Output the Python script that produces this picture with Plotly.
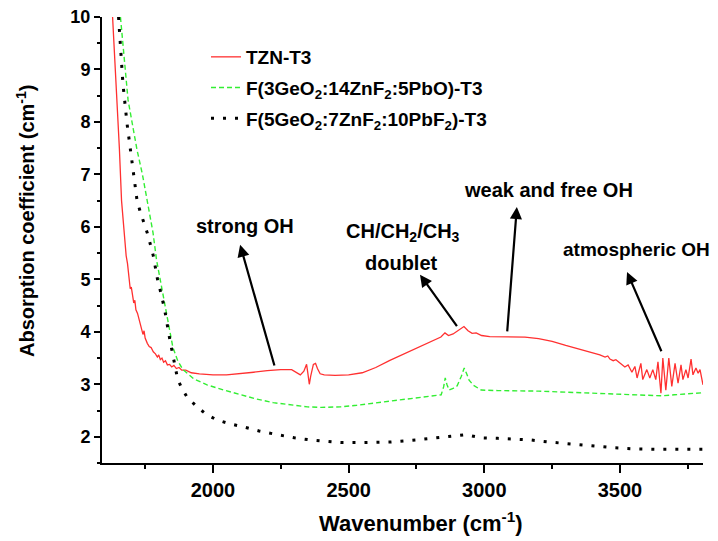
import plotly.graph_objects as go

# ---------------- data ----------------
tzn_x = [1630, 1645, 1655, 1663, 1672, 1680, 1685, 1690, 1695, 1699, 1704, 1708, 1712, 1716,
         1722, 1728, 1733, 1738, 1742, 1746, 1750, 1758, 1765, 1772, 1780, 1788, 1795, 1800,
         1806, 1812, 1818, 1825, 1832, 1840, 1848, 1856, 1865, 1875, 1885, 1900, 1920, 1950,
         2000, 2050, 2100, 2150, 2200, 2250, 2290, 2310, 2322, 2335, 2345, 2350, 2355, 2360,
         2370, 2378, 2385, 2395, 2410, 2450, 2500, 2550, 2600, 2650, 2700, 2750, 2800, 2840,
         2855, 2868, 2885, 2905, 2925, 2940, 2955, 2970, 2990, 3020, 3100, 3150, 3200, 3250,
         3300, 3350, 3400, 3426, 3445, 3455, 3463, 3475, 3485, 3500, 3518, 3530, 3544, 3555,
         3563, 3577, 3584, 3599, 3610, 3621, 3632, 3640, 3651, 3658, 3669, 3680, 3691, 3703,
         3714, 3725, 3732, 3743, 3751, 3762, 3769, 3780, 3788, 3795, 3806]
tzn_y = [10.0, 8.6, 7.5, 6.5, 5.9, 5.45, 5.3, 5.0, 4.82, 4.85, 4.72, 4.55, 4.6, 4.42,
         4.35, 4.22, 4.15, 4.0, 3.95, 4.02, 3.88, 3.78, 3.72, 3.7, 3.62, 3.58, 3.52, 3.56,
         3.47, 3.5, 3.42, 3.45, 3.37, 3.38, 3.33, 3.36, 3.3, 3.32, 3.27, 3.27, 3.22, 3.2,
         3.18, 3.18, 3.2, 3.23, 3.26, 3.28, 3.28, 3.22, 3.18, 3.25, 3.38, 3.2, 3.0, 3.15,
         3.38, 3.4, 3.3, 3.2, 3.18, 3.17, 3.18, 3.22, 3.32, 3.45, 3.57, 3.69, 3.8, 3.9,
         3.98, 3.93, 3.96, 4.03, 4.1, 4.02, 3.97, 3.98, 3.93, 3.91, 3.91, 3.9, 3.87, 3.82,
         3.74, 3.67, 3.59, 3.56, 3.52, 3.54, 3.48, 3.45, 3.47, 3.4, 3.33, 3.37, 3.23, 3.34,
         3.12, 3.4, 3.09, 3.28, 3.12, 3.28, 3.09, 3.43, 2.83, 3.5, 2.89, 3.5, 2.96, 3.4,
         3.02, 3.37, 3.09, 3.28, 3.12, 3.48, 3.18, 3.31, 3.21, 3.28, 2.99]

f3_x = [1659, 1675, 1687, 1705, 1720, 1740, 1757, 1779, 1792, 1812, 1830, 1852, 1870, 1889,
        1930, 1978, 2040, 2100, 2160, 2222, 2290, 2348, 2400, 2470, 2530, 2593, 2656, 2720,
        2790, 2841, 2850, 2856, 2862, 2870, 2885, 2900, 2915, 2926, 2935, 2944, 2960, 2989,
        3050, 3111, 3200, 3300, 3359, 3450, 3550, 3656, 3700, 3806]
f3_y = [10.0, 9.1, 8.42, 7.9, 7.47, 7.0, 6.51, 5.89, 5.37, 4.8, 4.29, 3.71, 3.45, 3.28,
        3.1, 2.99, 2.89, 2.8, 2.72, 2.65, 2.6, 2.57, 2.56, 2.57, 2.6, 2.64, 2.67, 2.71,
        2.76, 2.8, 2.95, 3.12, 3.0, 2.89, 2.92, 2.97, 3.15, 3.31, 3.2, 3.08, 2.98, 2.89,
        2.88, 2.88, 2.87, 2.85, 2.84, 2.82, 2.8, 2.78, 2.8, 2.84]

f5_x = [1652, 1668, 1683, 1701, 1720, 1730, 1760, 1780, 1796, 1810, 1822, 1841, 1855, 1870,
        1888, 1904, 1941, 1975, 2015, 2060, 2111, 2170, 2237, 2300, 2359, 2420, 2470, 2550,
        2656, 2750, 2852, 2900, 2933, 2960, 2989, 3050, 3111, 3170, 3237, 3300, 3359, 3420,
        3482, 3550, 3650, 3806]
f5_y = [10.0, 8.74, 7.98, 7.22, 6.51, 6.32, 5.85, 5.45, 4.99, 4.7, 4.42, 3.85, 3.45, 3.09,
        2.9, 2.76, 2.57, 2.43, 2.32, 2.25, 2.19, 2.11, 2.04, 1.98, 1.94, 1.91, 1.89, 1.89,
        1.9, 1.94, 2.0, 2.02, 2.04, 2.01, 1.98, 1.97, 1.96, 1.94, 1.9, 1.87, 1.85, 1.82,
        1.79, 1.77, 1.76, 1.76]

series_names = ["TZN-T3",
                "F(3GeO<sub>2</sub>:14ZnF<sub>2</sub>:5PbO)-T3",
                "F(5GeO<sub>2</sub>:7ZnF<sub>2</sub>:10PbF<sub>2</sub>)-T3"]

x_ticks = [2000, 2500, 3000, 3500]
y_ticks = [2, 3, 4, 5, 6, 7, 8, 9, 10]

FONT = "Liberation Sans, Arial, sans-serif"

# the page body adds an 8px offset; geometry below is in figure pixels
OFF = 8
W, H = 718, 541
L, T = 102 - OFF, 17 - OFF
R = W - (703 - OFF)
B = H - (463 - OFF)
PW, PH = W - L - R, H - T - B


def px(xp):
    return (xp - OFF - L) / PW


def py(yp):
    return 1 - (yp - OFF - T) / PH


fig = go.Figure()
fig.add_trace(go.Scatter(x=tzn_x, y=tzn_y, mode="lines", name="<b>" + series_names[0] + "</b>",
                         legendgroup="a",
                         line=dict(color="#ff3030", width=1.3)))
fig.add_trace(go.Scatter(x=f3_x, y=f3_y, mode="lines", name="<b>" + series_names[1] + "</b>",
                         legendgroup="b",
                         line=dict(color="#33ee33", width=1.4, dash="5px,3px")))
fig.add_trace(go.Scatter(x=f5_x, y=f5_y, mode="lines", name="<b>" + series_names[2] + "</b>",
                         legendgroup="c",
                         line=dict(color="#000000", width=3, dash="3px,9px")))

# arrows (head x,y ; tail ax,ay) in data coordinates
arrows = [
    (2100, 5.66, 2228, 3.33),
    (2763, 5.09, 2903, 4.08),
    (3120, 6.38, 3084, 3.98),
    (3526, 5.14, 3655, 3.60),
]
for hx, hy, tx, ty in arrows:
    fig.add_annotation(x=hx, y=hy, ax=tx, ay=ty, xref="x", yref="y", axref="x", ayref="y",
                       text="", showarrow=True, arrowhead=2, arrowsize=1.1,
                       arrowwidth=2.2, arrowcolor="black")

labels = [
    (2118, 6.02, "strong OH", 20),
    (2700, 5.89, "CH/CH<sub>2</sub>/CH<sub>3</sub>", 20),
    (2696, 5.31, "doublet", 20),
    (3235, 6.70, "weak and free OH", 20),
    (3560, 5.56, "atmospheric OH", 19),
]
for lx, ly, t, fs in labels:
    fig.add_annotation(x=lx, y=ly, xref="x", yref="y", text="<b>" + t + "</b>",
                       showarrow=False, font=dict(family=FONT, size=fs, color="black"))

# axis titles placed at their reference pixel positions
fig.add_annotation(x=px(421), y=py(522), xref="paper", yref="paper",
                   text="<b>Wavenumber (cm<sup>-1</sup>)</b>", showarrow=False,
                   xanchor="center", yanchor="middle",
                   font=dict(family=FONT, size=22, color="black"))
fig.add_annotation(x=px(25), y=py(221), xref="paper", yref="paper",
                   text="<b>Absorption coefficient (cm<sup>-1</sup>)</b>", showarrow=False,
                   textangle=-90, xanchor="center", yanchor="middle",
                   font=dict(family=FONT, size=20, color="black"))

fig.update_layout(
    width=W, height=H,
    margin=dict(l=L, r=R, t=T, b=B, autoexpand=False),
    paper_bgcolor="white", plot_bgcolor="white",
    font=dict(family=FONT, color="black"),
    legend=dict(x=px(206), y=py(38), xanchor="left", yanchor="top",
                bgcolor="rgba(0,0,0,0)", font=dict(family=FONT, size=19, color="black"),
                tracegroupgap=3, itemwidth=30),
    showlegend=True,
)

fig.update_xaxes(
    range=[1591, 3806], automargin=False, ticklabeloverflow="allow",
    showline=True, linewidth=2, linecolor="black", mirror=False,
    showgrid=False, zeroline=False, ticks="outside", ticklen=8, tickwidth=2, tickcolor="black",
    tickvals=x_ticks, ticktext=["<b>%d</b>" % v for v in x_ticks],
    tickfont=dict(family=FONT, size=20, color="black"),
    minor=dict(dtick=250, tick0=0, ticks="outside", ticklen=4, tickwidth=2, tickcolor="black"),
)
fig.update_yaxes(
    range=[1.5, 10], automargin=False, ticklabeloverflow="allow",
    showline=True, linewidth=2, linecolor="black", mirror=False,
    showgrid=False, zeroline=False, ticks="outside", ticklen=6, tickwidth=2, tickcolor="black",
    tickvals=y_ticks, ticktext=["<b>%d</b>" % v for v in y_ticks],
    tickfont=dict(family=FONT, size=18, color="black"),
    minor=dict(dtick=0.5, tick0=0, ticks="outside", ticklen=3, tickwidth=2, tickcolor="black"),
)

fig.write_html("out.html")
